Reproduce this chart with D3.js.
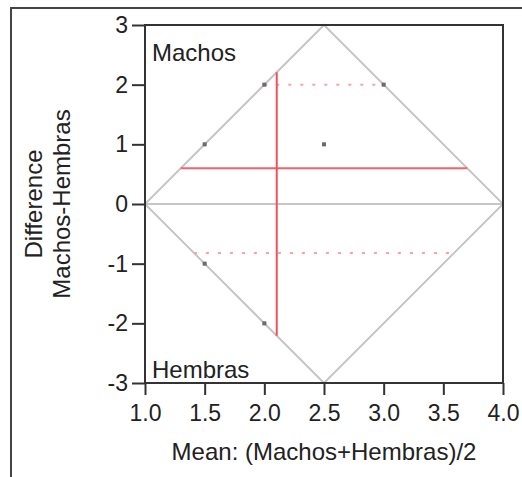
<!DOCTYPE html>
<html>
<head>
<meta charset="utf-8">
<script src="https://cdn.jsdelivr.net/npm/d3@7"></script>
<style>
  body { margin: 0; background: #fff; }
  text { font-family: "Liberation Sans", Arial, sans-serif; fill: #222; }
</style>
</head>
<body>
<div id="chart"></div>
<script>
// observed pairs (mean, difference)
var pointMeans = [1.5, 2.0, 3.0, 2.5, 1.5, 2.0];
var pointDiffs = [1, 2, 2, 1, -1, -2];

var meanOfMeans = 2.104;   // red vertical
var meanDiff = 0.6;        // red solid horizontal
var upperLimit = 2.0;      // dotted
var lowerLimit = -0.82;    // dotted

var xTicks = [1.0, 1.5, 2.0, 2.5, 3.0, 3.5, 4.0];
var yTicks = [-3, -2, -1, 0, 1, 2, 3];

var W = 522, H = 477;
var svg = d3.select("#chart").append("svg")
    .attr("width", W)
    .attr("height", H);

var x = d3.scaleLinear().domain([1, 4]).range([145, 503]);
var y = d3.scaleLinear().domain([-3, 3]).range([383, 25]);

// outer frame (only top and left edges visible)
svg.append("path")
    .attr("d", "M11," + H + "V8H" + W)
    .attr("fill", "none")
    .attr("stroke", "#444")
    .attr("stroke-width", 2);

// diamond where the difference is feasible
var diamond = [[1, 0], [2.5, 3], [4, 0], [2.5, -3], [1, 0]];
var line = d3.line().x(d => x(d[0])).y(d => y(d[1]));
svg.append("path")
    .attr("d", line(diamond))
    .attr("fill", "none")
    .attr("stroke", "#c6c6c6")
    .attr("stroke-width", 2);

svg.append("line")
    .attr("x1", x(1)).attr("x2", x(4))
    .attr("y1", y(0)).attr("y2", y(0))
    .attr("stroke", "#c6c6c6")
    .attr("stroke-width", 2);

// horizontal lines clipped to the diamond
function hSpan(d) { return [1 + Math.abs(d) / 2, 4 - Math.abs(d) / 2]; }

[upperLimit, lowerLimit].forEach(function (d) {
    var s = hSpan(d);
    svg.append("line")
        .attr("x1", x(s[0])).attr("x2", x(s[1]))
        .attr("y1", y(d)).attr("y2", y(d))
        .attr("stroke", "#f7a3ab")
        .attr("stroke-width", 2)
        .attr("stroke-dasharray", "3,9");
});

var s0 = hSpan(meanDiff);
svg.append("line")
    .attr("x1", x(s0[0])).attr("x2", x(s0[1]))
    .attr("y1", y(meanDiff)).attr("y2", y(meanDiff))
    .attr("stroke", "#f2616c")
    .attr("stroke-width", 2);

var vHalf = 3 - 2 * Math.abs(meanOfMeans - 2.5);
svg.append("line")
    .attr("x1", x(meanOfMeans)).attr("x2", x(meanOfMeans))
    .attr("y1", y(vHalf)).attr("y2", y(-vHalf))
    .attr("stroke", "#f0505c")
    .attr("stroke-width", 2);

// points
svg.selectAll(".pt")
    .data(pointMeans.map((m, i) => [m, pointDiffs[i]]))
    .enter().append("rect")
    .attr("class", "pt")
    .attr("x", d => x(d[0]) - 2)
    .attr("y", d => y(d[1]) - 2)
    .attr("width", 4)
    .attr("height", 4)
    .attr("fill", "#6a6a6a");

// plot box
svg.append("rect")
    .attr("x", x(1)).attr("y", y(3))
    .attr("width", x(4) - x(1))
    .attr("height", y(-3) - y(3))
    .attr("fill", "none")
    .attr("stroke", "#333")
    .attr("stroke-width", 2);

// axes (plain hyphen for negatives, like the original)
var yAxis = svg.append("g")
    .attr("transform", "translate(" + x(1) + ",0)")
    .call(d3.axisLeft(y).tickValues(yTicks).tickSize(13).tickPadding(4).tickFormat(d => String(d)));
var xAxis = svg.append("g")
    .attr("transform", "translate(0," + y(-3) + ")")
    .call(d3.axisBottom(x).tickValues(xTicks).tickSize(12).tickPadding(10).tickFormat(d => d.toFixed(1)));

[yAxis, xAxis].forEach(function (g) {
    g.select(".domain").remove();
    g.selectAll(".tick line").attr("stroke", "#333").attr("stroke-width", 2);
    g.selectAll(".tick text")
        .attr("font-family", null)
        .style("font-size", "23px")
        .attr("fill", "#222");
});

// in-plot labels
svg.append("text").attr("x", 152).attr("y", 61)
    .style("font-size", "24px").text("Machos");
svg.append("text").attr("x", 152).attr("y", 378)
    .style("font-size", "24px").text("Hembras");

// axis titles
svg.append("text")
    .attr("x", (x(1) + x(4)) / 2).attr("y", 460)
    .attr("text-anchor", "middle")
    .style("font-size", "24px")
    .text("Mean: (Machos+Hembras)/2");

var yt = svg.append("text")
    .attr("transform", "translate(34," + y(0) + ") rotate(-90)")
    .attr("text-anchor", "middle")
    .style("font-size", "24px");
yt.append("tspan").attr("x", 0).attr("dy", "0.35em").text("Difference");
yt.append("tspan").attr("x", 0).attr("dy", "1.17em").text("Machos-Hembras");
</script>
</body>
</html>
